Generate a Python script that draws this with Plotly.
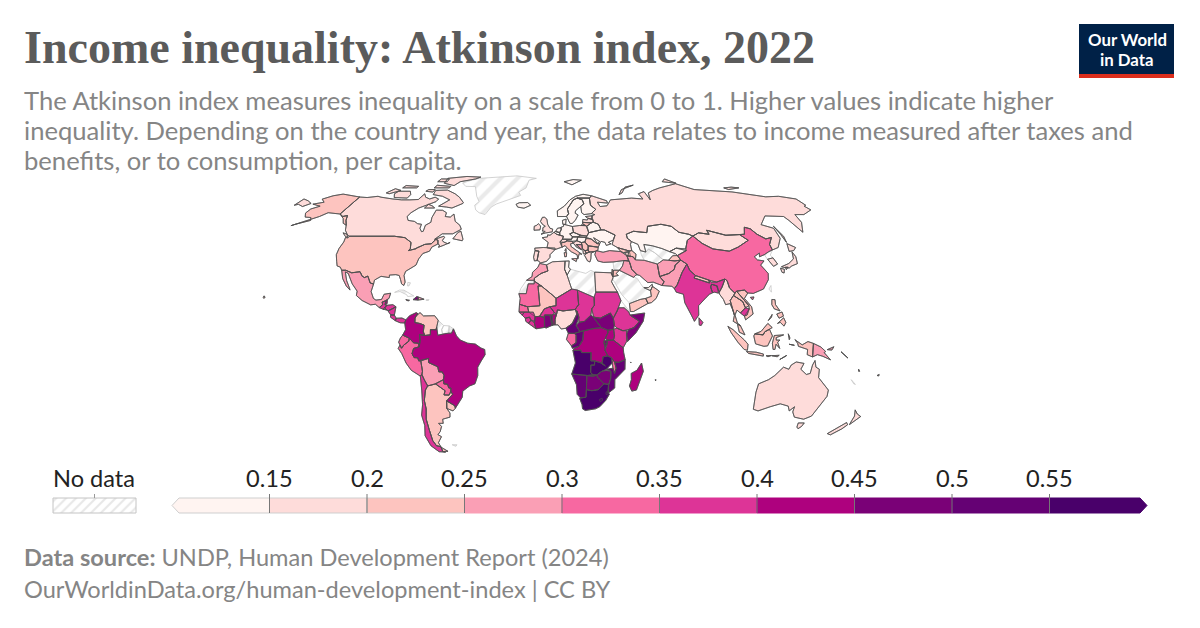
import bisect
import numpy as np
import plotly.graph_objects as go

TITLE = "Income inequality: Atkinson index, 2022"
SUBTITLE = ["The Atkinson index measures inequality on a scale from 0 to 1. Higher values indicate higher",
            "inequality. Depending on the country and year, the data relates to income measured after taxes and",
            "benefits, or to consumption, per capita."]
SOURCE = "<b>Data source:</b> UNDP, Human Development Report (2024)"
LINK = "OurWorldinData.org/human-development-index | CC BY"
BREAKS = [0.15, 0.2, 0.25, 0.3, 0.35, 0.4, 0.45, 0.5, 0.55]
BREAK_LABELS = ["0.15", "0.2", "0.25", "0.3", "0.35", "0.4", "0.45", "0.5", "0.55"]
COLORS = ["#fff4f1", "#fedcda", "#fdc4bf", "#fa9fb5", "#f768a1", "#dd3497", "#ae017e", "#7a0177", "#650174", "#49006a"]

VALUES = {
 "Canada":.17,"USA":.22,"Mexico":.28,"Guatemala":.37,"Belize":.4,"Honduras":.38,"El Salvador":.28,"Nicaragua":.36,"Costa Rica":.36,"Panama":.38,
 "Haiti":.48,"Dominican Rep":.28,"Jamaica":.3,"Colombia":.42,"Venezuela":.23,"Ecuador":.32,"Peru":.32,"Brazil":.43,"Bolivia":.28,"Paraguay":.32,"Chile":.37,"Argentina":.22,"Uruguay":.22,
 "Iceland":.12,"UK":.18,"Ireland":.17,"France":.17,"Spain":.19,"Portugal":.19,"Belgium":.13,"Netherlands":.14,"Germany":.14,"Denmark":.14,"Switzerland":.17,"Austria":.14,"Italy":.21,
 "Poland":.17,"Czechia":.11,"Slovakia":.12,"Hungary":.14,"Croatia":.15,"Bosnia":.27,"Serbia":.22,"Albania":.17,"N Macedonia":.2,"Greece":.18,"Bulgaria":.22,"Romania":.21,"Moldova":.14,"Ukraine":.12,"Belarus":.12,
 "Lithuania":.2,"Latvia":.18,"Estonia":.16,"Norway":.13,"Sweden":.13,"Finland":.12,"Russia":.18,"Kazakhstan":.12,"Kyrgyzstan":.14,"Tajikistan":.2,"Afghanistan":.27,"Pakistan":.27,"Iran":.27,"Iraq":.27,"Turkey":.28,
 "Jordan":.22,"Israel":.2,"Yemen":.23,"Oman":.23,"UAE":.12,"Georgia":.22,"Azerbaijan":.22,"Armenia":.18,"India":.37,"Bangladesh":.36,"Nepal":.24,"Sri Lanka":.36,"China":.33,"Mongolia":.18,
 "South Korea":.17,"Japan":.18,"Myanmar":.18,"Thailand":.22,"Laos":.23,"Vietnam":.22,"Cambodia":.38,"Malaysia":.23,"Indonesia":.22,"PNG":.28,"Philippines":.23,"Australia":.17,"New Zealand":.18,
 "Morocco":.27,"Mauritania":.31,"Algeria":.17,"Tunisia":.13,"Egypt":.18,"Sudan":.37,"South Sudan":.47,"Ethiopia":.38,"Somalia":.46,"Kenya":.37,"Uganda":.42,"Tanzania":.42,"Rwanda":.47,"Burundi":.47,
 "Senegal":.32,"Guinea-Bissau":.37,"Guinea":.36,"Sierra Leone":.38,"Liberia":.38,"Cote d'Ivoire":.43,"Ghana":.47,"Togo":.5,"Benin":.42,"Burkina Faso":.38,"Mali":.23,"Niger":.37,"Nigeria":.18,"Cameroon":.52,"Chad":.37,"CAR":.47,
 "Gabon":.32,"Congo":.52,"DRC":.42,"Angola":.57,"Zambia":.57,"Malawi":.33,"Mozambique":.52,"Zimbabwe":.47,"Botswana":.47,"Namibia":.52,"South Africa":.58,"Lesotho":.47,"Eswatini":.47,"Madagascar":.42,"Fiji":.17,"Comoros":.37,"Mauritius":.18,"Solomon":.3,"Vanuatu":.22,
}

NO_DATA = {
 "Greenland":"-73 78.2,-68 76,-60 75.8,-54.5 70,-51 67,-53 65,-51 62.5,-48 61,-43.5 60,-41 64,-38 65.7,-30 68,-22 70.5,-24 72.5,-19 75,-18 80,-12 81.5,-30 83.5,-50 82.5,-62 81.5,-68 79.8",
 "Cuba":"-84.9 21.9,-82.5 23,-80 23,-75 20.7,-74.2 20.2,-77.5 19.9,-78 20.7,-82 22.3",
 "Puerto Rico":"-67.2 18.4,-65.7 18.4,-66 18,-67.2 18",
 "Bahamas":"-78.5 26.7,-77 26.5,-77.5 25,-78.3 25",
 "Guyana":"-60 8.5,-57 6,-58 4,-57.5 2,-60 1.3,-60.7 5.2",
 "Suriname":"-57 6,-54 5.8,-54.2 2.3,-56.5 2,-57.5 2,-58 4",
 "French Guiana":"-54 5.8,-51.7 4.4,-52.7 2.3,-54.2 2.3",
 "Falklands":"-61 -51.5,-58 -51.5,-59 -52.3",
 "Western Sahara":"-13 27.7,-8.7 27.7,-8.7 26,-12 26,-13 21.3,-17 21.3,-16 23.7",
 "Libya":"11.5 33,15 32.3,20 31,23 32.5,25 31.6,25 22,24 19.5,15 23,11.9 23.5,9.5 30.2",
 "Eritrea":"36.9 14.9,38.5 18,43 12.6,40 14.5,37 14.5",
 "Saudi Arabia":"35 29.5,38 30,37 31,39 32.5,42 31.2,46.5 29.1,48.5 28.5,50 26,51 24.5,55 22.7,55.2 20,52 19,49 18.5,43 16.5,42.8 17,39 21,37 24.5,35 28",
 "Syria":"36 36.5,42.4 37.2,41 34.5,39 32.5,36 33,36 35",
 "Turkmenistan":"53 42,56 41.3,58 42.7,61 41,65 37.5,61 35.5,54 37.3,53 40",
 "Uzbekistan":"56 41.3,56 45,61 44.3,66 43,70 41.5,73 40.5,71 39.5,67.5 37.2,65 37.5,61 41,58 42.7",
 "North Korea":"124.3 40,128 41.5,130.7 42.3,127.7 39.8,128.5 38.5,125 37.8",
 "Taiwan":"121.5 25.2,121 22,120 23.5",
 "New Caledonia":"164 -20,167 -22.3,166 -22",
}

OUTLINES = {
 "Canada":"-141 69.6,-135 69.3,-128 70,-125 69.5,-115 68.5,-108 68,-102 68,-96 68.2,-95 71.5,-92 69.5,-88 68.5,-85 69.5,-81.5 68.5,-82 67,-87 65,-91 63.5,-94 61,-94.8 59,-92.5 57,-88 56.5,-85 55.3,-82.3 55,-82 53,-80 51.3,-79 51.5,-79.5 54.5,-77 56,-78 58.5,-78 62.4,-73.5 62.3,-70 61,-69.5 59,-66 58.7,-64.5 60.3,-61.5 56.5,-57.5 54.5,-55.7 52.5,-58.5 51.3,-60 50.2,-66.5 50.2,-70 47.5,-65 49,-64.3 48.5,-65 47,-64 46.2,-61 45.3,-60 46,-63 44.7,-66 43.6,-65.8 44.7,-67 45.2,-67.8 47.1,-69.2 47.4,-71 45.3,-74.7 45,-76.5 44.2,-79 43.3,-79 42.9,-83 42,-82.4 43,-83.5 46,-84.8 46.6,-88.4 48.3,-95.2 49,-123 49,-125 50,-128 52,-130 54.5,-133 57,-135 59.5,-137.5 59,-141 60.3"
   "|-62 66,-68 63.5,-72 64,-78 64.5,-73 68,-80 70,-88 71,-89 73.5,-80 73.7,-72 71.5,-67 69.5,-62 66.5|-105 69,-115 69.3,-118 71.5,-117 73,-108 73,-105 71|-62 82.5,-75 83,-90 81.5,-88 78,-78 76.5,-76 79,-65 81|-122 71.5,-125 72,-122 74.5,-116 73.5|-80 75,-92 75,-92 76.7,-80 76|-87 79,-95 79,-95 81,-88 81|-106 75,-117 75,-117 76.5,-106 76|-90 72.5,-96 73,-95 74,-90 74|-59 47.8,-53 46.8,-52.8 47.6,-55.5 51.5,-57 51|-123.5 48.5,-125 48.8,-128.2 50.7,-125 50|-80 63.5,-87 63.5,-86 65.5,-82 64.5",
 "USA":"-123 49,-95.2 49,-88.4 48.3,-84.8 46.6,-83.5 46,-82.4 43,-83 42,-79 42.9,-79 43.3,-76.5 44.2,-74.7 45,-71 45.3,-69.2 47.4,-67.8 47.1,-67 45.2,-70 43.7,-70.6 41.7,-74 40.6,-75.5 38,-76 35,-78 33.9,-81 32,-81.3 30,-80 26.8,-80.4 25.2,-81.8 26,-82.8 28,-84 30,-86 30.4,-89.5 30.2,-89.3 29,-91 29.3,-94 29.6,-97.2 27.8,-97.2 25.9,-99.2 26.4,-101.4 29.7,-103 29,-104.5 29.6,-106.5 31.8,-108.2 31.5,-111 31.3,-114.8 32.5,-117.1 32.5,-118.5 34,-120.6 34.6,-122 36.8,-124 40,-124.5 43,-124 46.2,-124.7 48.4,-123 48.2"
   "|-141 69.6,-148 70.4,-156.5 71.3,-162 70.3,-166.5 68.4,-162 66.7,-168 65.6,-161 64.5,-165 63,-165 60.8,-162 58.7,-158 58.5,-156 57,-163 55,-165 54.3,-158 56.8,-153 59,-150 61,-146 60.8,-141 60.3"
   "|-130 54.5,-133 57,-135 59.5,-137.5 59,-141 60.3,-139 59.5,-136 58,-133 55.5|-155.5 19,-155 19.7,-155.8 20.2,-156 19.5",
 "Mexico":"-117.1 32.5,-114.8 32.5,-111 31.3,-108.2 31.5,-106.5 31.8,-104.5 29.6,-103 29,-101.4 29.7,-99.2 26.4,-97.2 25.9,-97.8 22.3,-96 19,-94.5 18.2,-91.5 18.5,-90.5 21,-87 21.5,-87.5 19,-88.3 18.5,-89.1 17.9,-91 17.2,-90.5 16,-92.2 14.6,-94.5 16.2,-97 15.9,-102 18,-105.5 20.4,-105.5 22.5,-109 26,-112.8 31,-114.7 31.7,-112.5 27.5,-110 24,-109.5 23,-112 25,-115 28.5",
 "Guatemala":"-92.2 14.6,-90.5 16,-91 17.2,-89.1 17.9,-89.2 15.9,-88.2 15.7,-89.3 14.4,-90 13.8",
 "Belize":"-88.3 18.5,-89.1 17.9,-89.2 15.9,-88.2 16.5",
 "Honduras":"-88.2 15.7,-85 16,-83.2 15,-85 14,-87.3 13,-87.8 13.4,-89.3 14.4",
 "El Salvador":"-89.3 14.4,-87.8 13.4,-90 13.8",
 "Nicaragua":"-83.2 15,-83.7 11,-85.7 11.1,-87.3 13,-85 14",
 "Costa Rica":"-83.7 11,-82.6 9.5,-83 8.3,-85.7 10,-85.7 11.1",
 "Panama":"-82.6 9.5,-79.5 9.6,-77.4 8.7,-77.9 7.2,-80.4 7.3,-81.5 7.7,-83 8.3",
 "Haiti":"-74.4 18.4,-72.5 19.9,-71.7 19.7,-71.7 18.2",
 "Dominican Rep":"-71.7 19.7,-69 19,-68.4 18.6,-71.7 18.2",
 "Jamaica":"-78.3 18.4,-76.3 18.1,-77 17.8",
 "Colombia":"-77.4 8.7,-75.5 10.7,-72 12.2,-71.3 11.8,-72.5 9.5,-72.5 7.4,-70 7,-67.5 6.2,-67.8 3,-67 1.2,-69.8 1.7,-69.5 -1,-70 -4.2,-70.5 -2.5,-73 -2.3,-75.2 -0.1,-78.8 1.4,-77.3 4,-77.9 7.2",
 "Venezuela":"-71.3 11.8,-71.5 10.9,-70 12.2,-68 10.6,-62 10.7,-60 8.5,-60.7 5.2,-61 4,-64 4,-64 1.5,-67 1.2,-67.8 3,-67.5 6.2,-70 7,-72.5 7.4,-72.5 9.5",
 "Brazil":"-69.8 1.7,-67 1.2,-64 1.5,-64 4,-61 4,-60.7 5.2,-60 1.3,-57.5 2,-56.5 2,-54.2 2.3,-52.7 2.3,-51.7 4.4,-50 1,-48 -1,-44 -2.5,-40 -2.9,-37 -4.8,-35 -5.5,-34.8 -8,-37 -11,-39 -14,-39.2 -18,-41 -22,-44 -23,-48 -25.5,-48.7 -28.5,-52 -32.5,-53.4 -33.7,-53.5 -32.5,-57.6 -30.2,-53.8 -27,-54.6 -25.6,-54.3 -24,-55.5 -24,-56 -22.2,-58 -22,-58 -20,-57.5 -18,-58.3 -16.3,-60.2 -16.2,-60.5 -13.8,-65.3 -11.8,-65.3 -9.8,-69.5 -11,-70.6 -11,-71 -9.5,-73 -9.4,-74 -7.5,-73 -5,-70 -4.2,-69.5 -1",
 "Ecuador":"-78.8 1.4,-75.2 -0.1,-75.6 -1.6,-78.3 -3.4,-79.5 -4.9,-80.3 -3.4,-81 -2,-80 0",
 "Peru":"-75.2 -0.1,-73 -2.3,-70.5 -2.5,-70 -4.2,-73 -5,-74 -7.5,-73 -9.4,-71 -9.5,-70.6 -11,-69.5 -11,-69 -16,-69.5 -17.5,-70.4 -18.3,-75 -15.5,-77.5 -12,-79.5 -7.5,-81.3 -5,-80.3 -3.4,-79.5 -4.9,-78.3 -3.4,-75.6 -1.6",
 "Bolivia":"-69.5 -11,-65.3 -9.8,-65.3 -11.8,-60.5 -13.8,-60.2 -16.2,-58.3 -16.3,-57.5 -18,-58 -20,-62.6 -22,-64.5 -22.5,-67 -23,-68.5 -20,-69.5 -17.5,-69 -16",
 "Paraguay":"-58 -20,-58 -22,-56 -22.2,-55.5 -24,-54.3 -24,-54.6 -25.6,-55.8 -27.4,-58.6 -27.3,-57.7 -25.3,-62.6 -22",
 "Chile":"-70.4 -18.3,-69.5 -17.5,-68.5 -20,-67 -23,-68.5 -25,-70 -30,-70 -34,-71.5 -39,-71.7 -44,-72 -49.5,-71 -52,-68.5 -52.5,-68.6 -54.9,-67 -55.2,-71 -55,-74.5 -52,-75.5 -47,-73.5 -42,-73.5 -37,-71.5 -32,-70.5 -25",
 "Argentina":"-64.5 -22.5,-62.6 -22,-57.7 -25.3,-58.6 -27.3,-55.8 -27.4,-54.6 -25.6,-53.8 -27,-57.6 -30.2,-58.3 -33.8,-57 -36,-57.5 -38,-62 -39,-62.3 -41,-65 -41,-63.8 -42.5,-65.5 -45,-67.5 -46.5,-65.8 -47.5,-69 -50.5,-68.5 -52.5,-71 -52,-72 -49.5,-71.7 -44,-71.5 -39,-70 -34,-70 -30,-68.5 -25,-67 -23|-68.6 -52.7,-65.2 -54.8,-68.6 -54.9",
 "Uruguay":"-57.6 -30.2,-53.5 -32.5,-53.4 -33.7,-55 -35,-58.3 -33.8",
 "Iceland":"-24 65.5,-22 66.4,-16 66.5,-13.6 65,-18 63.4,-22.5 64",
 "UK":"-5.5 50,-3 50.6,1.4 51.2,1.7 52.6,0 53,-1.5 55,-2 57.6,-3.5 58.6,-5 58.6,-6.2 56.5,-4.9 55,-3 54,-4.5 53.3,-4.5 52,-5 51.7,-3 51.4",
 "Ireland":"-10 52,-6.3 52.2,-6 53.5,-6 54.2,-7.5 55.3,-8.5 54.5,-10 54",
 "France":"2.5 51,4 50,6 49.5,8.2 49,7.5 47.5,6 46.2,7 44,7.5 43.8,3 42.5,3 43.2,-1.8 43.4,-1.1 46,-4.8 48.3,-1.5 48.7,-1.5 49.7,0 49.5|9.4 43,9.5 41.5,8.7 42",
 "Spain":"-1.8 43.4,3 42.5,0 40,0 38.7,-2 36.8,-5.5 36,-6.5 37,-7.4 37.2,-7 39.5,-6.5 41.7,-8.8 42,-9 43.2,-4 43.5",
 "Portugal":"-7.4 37.2,-8.9 37,-9.5 38.8,-8.8 42,-6.5 41.7,-7 39.5",
 "Belgium":"2.5 51,3.5 51.4,6 50.8,6 49.5,4 50",
 "Netherlands":"3.5 51.4,6 50.8,7 52.3,7 53.3,4.7 53,4 52",
 "Germany":"7 53.5,8.6 54,8.8 55,10 54.7,14.2 53.9,14.6 51,12.2 50.2,13.8 48.7,13 47.5,7.5 47.6,8.2 49,6 49.5,6 50.8,7 52.3",
 "Denmark":"8.2 55,8.1 57,10.6 57.7,10 54.9,8.8 55",
 "Switzerland":"6 46.2,7.5 47.5,9.6 47.5,10.4 46.7,8.5 46",
 "Austria":"9.6 47.5,13 47.5,13.8 48.7,17 48.7,16.2 46.8,13.5 46.5,10.4 46.7",
 "Italy":"7 44,6.9 45.8,8.5 46,10.4 46.7,13.5 46.5,13.7 45.6,12.3 45.3,12.5 44,16 41.8,18.5 40.2,17 40.5,16.5 38.8,16 38,15.7 40,12.5 41.4,10.5 42.9,9 44.4,7.5 43.8|12.5 38,15.6 38.2,15 36.7|8.3 41,9.7 41,9.5 39.1,8.5 39",
 "Poland":"14.2 53.9,19 54.4,23 54.3,24 50.8,22.6 49.1,19 49.4,14.6 51",
 "Czechia":"12.2 50.2,14.6 51,18.8 49.6,17 48.7,13.8 48.7",
 "Slovakia":"18.8 49.6,22.6 49.1,22 48.4,17 48.7",
 "Hungary":"17 48.7,22 48.4,21 46.2,18.8 45.9,16.2 46.8",
 "Croatia":"13.6 45.6,16.2 46.8,18.8 45.9,19 44.9,15.7 44.9,18.5 42.4,15.5 43.8,14.5 45.2",
 "Bosnia":"15.7 44.9,19 44.9,19 43.2,18.5 42.5",
 "Serbia":"18.8 45.9,21 46.2,22.7 44.3,22.4 42.4,20.6 41.9,19.3 42.8,19 44.9",
 "Albania":"19.3 42.8,20.6 41.9,21 40.5,19.4 40.4",
 "N Macedonia":"20.6 41.9,22.4 42.3,23 41.2,21 40.9",
 "Greece":"21 40.5,23 41.3,26.3 41.6,24 40.8,23.5 38,22.8 36.5,21.5 37,20 39.7",
 "Bulgaria":"22.4 42.4,22.7 44.3,28.6 43.6,28 42,26.3 41.6,23 41.3",
 "Romania":"21 46.2,22 47.9,24.9 47.7,28 45.4,29.7 45.2,28.6 43.7,22.7 44.3",
 "Moldova":"26.6 48.3,30 46.4,28.2 45.5",
 "Ukraine":"22 48.4,24 50.8,32 52.2,34 52.2,40 49.6,38.2 47.1,35 46,36.5 45.3,33.5 44.5,33 46,30.7 46.5,29.7 45.3,28 45.4,24.9 47.7",
 "Belarus":"23.5 53.9,24 50.8,32 52.2,31 55,28 56.1,26.6 55.7,23.3 54",
 "Lithuania":"21 56,26.6 55.7,23.3 54,21 55.2",
 "Latvia":"21 56,21.5 57.5,24.4 57.2,25 58,28 57.5,28 56.1,26.6 55.7",
 "Estonia":"23.5 59,28 59.4,27.5 57.6,25 58,24.4 58.3",
 "Norway":"5 59,5 62,10 64.5,14.5 68,19 70,25 71.2,31 70.3,29 69,25 69,20 69,17 68,14.5 65.5,12 63,12.5 60.5,11 59|12 79,20 80.5,27 80,18 77",
 "Sweden":"11 59,12.5 60.5,12 63,14.5 65.5,17 68,20 69,23.5 68,24 65.8,21.5 64.5,17.4 62,17 60.7,18.8 59.8,16.5 57,14.2 55.4,12.8 55.5",
 "Finland":"20 69,25 69,29 69,28.5 65,31.5 62.8,27.8 60.5,22.8 60,21.4 61,21.5 64.5,24 65.8,23.5 68",
 "Russia":"31 70.3,41 67.5,41 66.2,34 66.7,35 64.3,40 64.7,44 68,53 68.5,60 69,68 68.5,67 71.5,72.5 72.8,73 68,75 72,80 73.5,87 75,104 77.7,113 74,128 73,140 72.6,160 69.7,170 70,180 68.5,180 65,178 64.5,179 62.5,170 60,164 60,162.5 56,157 51,155.7 57,155 59,143 59.3,135 54.8,141 53,140 48,135 43.5,130.7 42.3,131 45,135 48.4,131 47.7,127.5 50,126 52.7,123 53.5,119.8 50,116.7 49.8,108 49.5,98 52,98 50,92 50.7,87.5 49.1,85.5 50,80 51,77 54,71 55,62 54,60 50.8,52 51.5,47 50,47 48,49 46.4,48 45,48 42,46.5 41.8,40 43.4,37 45,38.2 47.1,40 49.6,34 52.2,32 52.2,31 55,28 56.1,28 57.5,27.5 57.6,28 59.4,30 60,27.8 60.5,31.5 62.8,28.5 65,29 69"
   "|-180 65,-180 68.5,-175 67.5,-170 66,-173 64.3,-178 65.5|19.7 54.4,22.8 54.4,21 55.2|142 54,143 49,142 46,142 50|52 71,56 74,68 76.8,60 75.5,55 72|95 79,105 78,100 81|138 75,145 75.5,150 75,140 74",
 "Kazakhstan":"47 48,47 50,52 51.5,60 50.8,62 54,71 55,77 54,80 51,85.5 50,87.5 49.1,83 47,80 42.8,74.5 43.2,70 41.5,66 43,61 44.3,56 45,56 41.3,53 42,52.5 45,49 46.4",
 "Kyrgyzstan":"70 41.5,74.5 43.2,80 42,73.8 39.6,73 40.5",
 "Tajikistan":"68 37.3,71 39.5,73.8 39.6,75 37.4,71.5 37",
 "Afghanistan":"61 35.5,65 37.5,68 37.3,71.5 37,75 37.4,71 35,70 33,66.5 31,61 29.5,61 31.5",
 "Pakistan":"61 29.5,66.5 31,70 33,71 35,75 37.4,77.8 35.5,74 31.5,70 25.5,68.2 23.7,67 24.8,61.6 25.2,63 27",
 "Iran":"44.5 39.5,48 39,49 37.5,54 37.3,61 35.5,61 31.5,61 29.5,63 27,61.6 25.2,57 26.8,54 26.6,50 30,48.5 30.4,46 33,45.5 36",
 "Iraq":"42.4 37.2,45 37,45.5 36,46 33,48.5 30.4,47.5 30,46.5 29.1,42 31.2,39 32.5,41 34.5",
 "Turkey":"26 40,27 42,31 41.2,35 42,41.5 41.5,44.5 39.5,45 37,42.4 37.2,36 36.5,30.5 36.3,27.3 37",
 "Jordan":"35 29.5,35.5 32.5,39 32.5,37 31,38 30",
 "Israel":"34.3 31.3,35 29.5,35.5 32.5,35 33,34.8 32",
 "Yemen":"43 16.5,49 18.5,52 19,53.1 16.6,45 12.7,43.3 12.7",
 "Oman":"52 19,55.2 20,55 22.7,56.3 24.8,59.8 22.5,57.7 19,55 17,53.1 16.6",
 "UAE":"51.5 24.2,54 24.2,56.3 25.8,56.3 24.8,55 22.7",
 "Georgia":"40 43.4,46.5 41.8,43 41,41.5 41.5",
 "Azerbaijan":"46.5 41.8,48 42,50 40.3,49 37.5,48 39,45 39.5",
 "Armenia":"43.5 41,46.5 41,46.5 39,44.5 39.5",
 "India":"77.8 35.5,78.5 32.5,81 30,80 28.8,88 26.4,88 27.8,89 26.8,92 26.8,97 28.3,94.5 24.5,92.5 22,92 24.2,91.5 25,89 25.8,88.2 24.5,88.8 21.7,87 21,85 19.5,80.3 15.5,80 11,77.5 8,76 11,73 17,72.8 21,69 22,68.2 23.7,70 25.5,74 31.5",
 "Bangladesh":"88.2 24.5,89 25.8,92 25,92 21.5,90 22,88.8 21.7",
 "Nepal":"80 28.8,81 30,88 27.8,88 26.4",
 "Sri Lanka":"80 9.7,82 7.5,81 6,80 6.2",
 "China":"73.8 39.6,80 42,80 42.8,83 47,87.5 49.1,91 45.5,96 42.8,105 41.7,111.5 43.7,119.8 47,116.7 49.8,119.8 50,123 53.5,126 52.7,127.5 50,131 47.7,135 48.4,131 45,130.7 42.3,128 41.5,124.3 40,121 39,122 40.8,118 39,119 37.5,122.5 37,119.5 35,122 31,121 28,117 23.5,111 21.4,108 21.6,106.5 23,102 22.5,101 21.5,98.5 24,98 27.5,97 28.3,92 26.8,89 27.8,88 27.8,81 30,78.5 32.5,77.8 35.5,75 37.4|109 19.5,111 19.7,110 18.3",
 "Mongolia":"87.5 49.1,92 50.7,98 50,98 52,108 49.5,116.7 49.8,119.8 47,111.5 43.7,105 41.7,96 42.8,91 45.5",
 "South Korea":"125 37.8,128.5 38.5,129.4 35.5,126.5 34.4",
 "Japan":"130.9 34.2,136 35.8,140 38,141.5 41.4,142 39,140.8 35.7,137 34.6,135 33.6,132 33.9|140 41.6,141.7 45.4,145.3 43.5,143 42|130 33.5,132 33,131 31.2,130 31.5|133 34,134.6 34,133 32.8",
 "Myanmar":"97 28.3,98 27.5,98.5 24,101 21.5,97.8 18,99.2 11,98.7 13,97.5 16.5,95 16,94.2 18.5,92.5 21,92.5 22,94.5 24.5",
 "Thailand":"97.8 18,100 20.4,104.5 17.5,105.5 14.5,102.5 12,100.8 13.4,99.5 11,100.5 7.2,102 6,98.3 8,99.2 11",
 "Laos":"101 21.5,102 22.5,104 20,107.5 15.5,105.5 14.5,104.5 17.5,100 20.4",
 "Vietnam":"102 22.5,106.5 23,108 21.6,105.7 19,108.9 15,109.3 11.5,105 8.7,104.5 10.5,107.5 14,107.5 15.5,104 20",
 "Cambodia":"102.5 12,105.5 14.5,107.5 14,106 11,104.5 10.5",
 "Malaysia":"100.5 6.5,102 6,104.3 1.5,101.3 2.8|109.6 2,111.3 2.7,113 3.2,116.8 7,119 5,117.5 4.2,115 3,114 1.5",
 "Indonesia":"109 1,109.6 2,114 1.5,115 3,117.5 4.2,119 1,116.5 -3.8,114.5 -4,110 -2.8|95.3 5.6,98 4,104 -1,106 -3,105.8 -5.9,104 -5.5,100.5 -2,97 2.5|105.3 -6.5,110.5 -6.8,114.5 -7.7,114.5 -8.7,106.5 -7.4|119.5 -5.5,119 -2.5,120 1.2,125 1.5,121 0.2,121 -1,123 -1,121.8 -2,123 -5,121 -3,120.5 -5.5|123.5 -10.3,127 -8.4,125 -9.5|119 -8.5,123 -8.3,122 -9,119.5 -8.8|116 -8.5,118.8 -8.4,117 -9|127.5 2,128.3 0,128 -0.8|128 -3,130.8 -3.5,129 -3.5|131 -0.8,135 -3.3,138 -1.7,141 -2.6,141 -9.1,138 -8,138 -5.5,133 -4,132.5 -2.5",
 "PNG":"141 -2.6,145 -4.3,147.8 -6.5,147 -7,150.8 -10.5,146.5 -8.8,143.5 -8,141 -9.1|148.5 -5.6,152 -4.2,151 -5.8",
 "Solomon":"156 -6.6,160 -9.6,159 -9",
 "Philippines":"120.5 18.5,122.2 18.4,122 16,124 13,121 14,120 16|122 7,125.5 9.7,126.5 7.5,125.4 5.7,123.5 7.5|122 11.5,125 12.5,125.5 10.5,123 9.5|117.2 8.4,119.5 11.3,119 10",
 "Australia":"114 -22,113.5 -26,115 -34.2,118 -35,124 -33,129 -31.6,134 -32.7,135.7 -35,137.7 -33,138 -35.5,140.5 -38,144 -38.5,146.5 -39,150 -37.5,151.3 -33.8,153.5 -28,153 -25,149.5 -22,146 -19,145.5 -15,143.5 -14,142.5 -10.8,141.5 -13,141 -17,139 -17.5,135.5 -15,136.8 -12.2,132.5 -11.5,130 -13,129 -15,126 -14,122 -18,119 -20|144.7 -40.8,148.2 -40.8,148 -42.5,146.8 -43.6,145.5 -42.8",
 "New Zealand":"172.8 -34.5,175.5 -36.5,178.4 -37.7,177 -39.5,175.3 -41.6,174.8 -39.5,174.7 -37.5|172.7 -40.6,174.3 -41.7,172.8 -43.7,171 -45,169 -46.6,166.5 -46,170 -43",
 "Fiji":"177.5 -18,178.5 -17.5,178.5 -18.2",
 "Vanuatu":"166.7 -15,167.5 -16,167 -16",
 "Comoros":"43.3 -11.5,43.6 -11.9,43.3 -12",
 "Mauritius":"57.3 -20,57.8 -20.1,57.5 -20.5",
 "Morocco":"-5.9 35.8,-2 35.1,-1.2 32.2,-5 31,-8.7 28.7,-8.7 27.7,-13 27.7,-10 29.5,-9.8 31.5,-6.8 34",
 "Mauritania":"-17 21.3,-13 21.3,-12 26,-8.7 26,-8.7 27.3,-4.8 25,-6.6 25,-5.5 15.5,-12.2 15,-16.5 16.2,-16.2 19",
 "Algeria":"-2 35.1,1.5 36.6,8.6 36.9,8.2 33,9.5 30.2,11.9 23.5,3.3 19,1.2 20.7,-4.8 25,-8.7 27.3,-8.7 28.7,-5 31,-1.2 32.2",
 "Tunisia":"8.6 36.9,11 37,10.5 34,11.5 33,9.5 30.2,8.2 33",
 "Egypt":"25 31.6,34.2 31.3,35 29,34 27,35.7 23.9,36.9 22,25 22",
 "Sudan":"25 22,36.9 22,38.5 18,37 14.5,36.2 13,34 9.5,32.5 12,27 9.5,23.5 10,22.5 14,24 15.7,24 19.5",
 "South Sudan":"23.5 10,27 9.5,32.5 12,34 9.5,34.5 6,34 4.2,31 3.7,27.5 5,24.5 8.5",
 "Ethiopia":"36.2 13,37 14.5,40 14.5,42.5 12.5,43 11,48 8,45 5,42 4,39 3.5,35.9 4.7,34.5 6,34 9.5",
 "Somalia":"43 11,51 12,50 8,46 2.5,41.5 -1.7,41 2,42 4,45 5,48 8",
 "Kenya":"34 4.2,35.9 4.7,39 3.5,41 3.5,41 -1.7,39.2 -4.7,33.9 -1,34.5 1",
 "Uganda":"31 3.7,34 4.2,34.5 1,33.9 -1,30.5 -1.1,29.6 0,31 2.5",
 "Tanzania":"30.5 -1.1,33.9 -1,39.2 -4.7,39.5 -7,40.4 -10.4,37 -11.7,34.8 -11.6,33 -9.5,31 -8.6,29.5 -6,30.5 -3",
 "Rwanda":"29 -1.4,30.5 -1.1,30.5 -2.7,29 -2.7",
 "Burundi":"29 -2.7,30.5 -2.7,29.5 -4.5",
 "Senegal":"-16.5 16.2,-12.2 15,-11.4 12.4,-16.7 12.4",
 "Guinea-Bissau":"-16.7 12.4,-13.7 12.4,-15 11",
 "Guinea":"-13.7 12.4,-11.4 12.4,-9 12.4,-8 10.2,-7.9 8,-10 8.5,-11 10,-13.3 9.5,-15 11",
 "Sierra Leone":"-13.3 9.5,-11 10,-10.3 8.5,-11.5 7,-13 8",
 "Liberia":"-11.5 7,-10.3 8.5,-8.5 7.6,-7.5 4.4",
 "Cote d'Ivoire":"-8.5 7.6,-8 10.2,-5.5 10.4,-3 9.9,-2.7 5.1,-7.5 4.4",
 "Ghana":"-3 11,0 11,1.2 6.1,-2 4.8,-3 5.1",
 "Togo":"0 11,1 11,1.7 6.2,1 6",
 "Benin":"1 11,3.6 11.7,2.7 9,2.7 6.3,1.7 6.2",
 "Burkina Faso":"-5.5 10.4,-3 9.9,-3 11,0 11,1 11,2.5 12,0 15,-3 14,-5 11.5",
 "Mali":"-12.2 15,-11.4 12.4,-8 10.2,-5.5 10.4,-5 11.5,-3 14,0 15,3.3 15.5,3.3 19,1.2 20.7,-4.8 25,-6.6 25,-5.5 15.5",
 "Niger":"3.3 15.5,0 15,2.5 12,3.6 11.7,4 13.5,7 13,13.5 13.7,15.5 16,15 23,11.9 23.5,3.3 19",
 "Nigeria":"2.7 6.3,2.7 9,3.6 11.7,4 13.5,7 13,13.5 13.7,14.5 11.5,12 7,8.5 4.7,6 4.3,4.3 6.3",
 "Cameroon":"8.5 4.7,12 7,14.5 11.5,14.5 13,15.5 10,14 6,16 3,13 2.2,9.8 2.3",
 "Chad":"15 23,24 19.5,24 15.7,22.5 14,22 11,18.5 8,15.5 7.5,15.5 10,14.5 13,13.5 13.7,15.5 16",
 "CAR":"14 6,15.5 7.5,18.5 8,22 11,23.5 10,24.5 8.5,27.5 5,23 4.5,18.5 3.5,16 3",
 "Gabon":"9.8 2.3,13 2.2,14 1.4,14 -2.2,11.5 -3.8,9.3 -1.5,8.8 -0.7",
 "Congo":"13 2.2,16 3,18 3.5,17.5 -1,15.5 -4,12 -5,11.5 -3.8,14 -2.2,14 1.4",
 "DRC":"18 3.5,23 4.5,27.5 5,31 3.7,31 2.5,29.6 0,29 -1.4,29 -2.7,29.5 -4.5,29.5 -6,31 -8.6,28.5 -9,28 -12,29.8 -13.4,27 -11.8,24 -11,22 -11,22 -7,17 -7,16.5 -5.9,12.3 -6,13 -5,15.5 -4,17.5 -1",
 "Angola":"12.3 -6,16.5 -5.9,17 -7,22 -7,22 -11,24 -11,24 -13,22 -13,22 -16.5,23.3 -17.7,20.5 -18,11.8 -17.3,13.7 -12,13 -9",
 "Zambia":"22 -13,24 -13,24 -11,27 -11.8,29.8 -13.4,28 -12,28.5 -9,31 -8.6,33 -9.5,33.5 -12,30.5 -15,28 -16,25.3 -17.8,23.3 -17.7,22 -16.5",
 "Malawi":"33 -9.5,34.8 -11.6,35.7 -14.5,35 -17,34 -14.5,33.5 -12",
 "Mozambique":"34.8 -11.6,37 -11.7,40.4 -10.4,40.5 -15,35.3 -20,35.5 -24,32.8 -26,32 -26,32 -23,33 -19.5,33 -16,30.5 -15,34 -14.5,35 -17,35.7 -14.5",
 "Zimbabwe":"25.3 -17.8,28 -16,30.5 -15.6,33 -16,33 -19.5,32 -22.3,29.5 -22,26 -19",
 "Botswana":"20 -18,23.3 -17.7,25.3 -17.8,26 -19,29.5 -22,26.5 -24.8,23 -25.3,20 -24.8,20 -22",
 "Namibia":"11.8 -17.3,20.5 -18,23.3 -17.7,25.3 -17.8,23.3 -18.5,20 -18,20 -22,20 -28.4,17 -28.8,15 -27,14.5 -22.5",
 "South Africa":"17 -28.8,20 -28.4,20 -24.8,23 -25.3,26.5 -24.8,29.5 -22,32 -22.3,32 -26,32.8 -27,31 -30,28 -33,25.7 -34,20 -34.8,18.4 -34,18 -32,16.5 -29",
 "Lesotho":"27.5 -29.5,29 -29,29.3 -30,28 -30.5",
 "Eswatini":"31 -25.8,32 -26,31.8 -27.2,30.9 -27",
 "Madagascar":"49.3 -12,50.5 -16,47.5 -25,45 -25.5,43.5 -23,44.3 -20,44 -17,47 -15.5",
}

# Robinson projection tables (every 5 degrees of latitude)
LAT_TABLE = list(range(0, 95, 5))
PLEN = [1,.9986,.9954,.99,.9822,.973,.96,.9427,.9216,.8962,.8679,.835,.7986,.7597,.7186,.6732,.6213,.5722,.5322]
PDFE = [0,.062,.124,.186,.248,.31,.372,.434,.4958,.5571,.6176,.6769,.7346,.7903,.8435,.8936,.9394,.9761,1]
CX, CY, KX, KY = 550, 338, 1.87, 168

def project(lon, lat):
    a = abs(lat)
    return CX + KX * np.interp(a, LAT_TABLE, PLEN) * lon, CY - np.sign(lat) * KY * np.interp(a, LAT_TABLE, PDFE)

def parts(outline):
    xs, ys = [], []
    for part in outline.split("|"):
        pts = [tuple(map(float, p.split())) for p in part.split(",")]
        pts.append(pts[0])
        for lon, lat in pts:
            x, y = project(lon, lat)
            xs.append(round(float(x), 2)); ys.append(round(float(y), 2))
        xs.append(None); ys.append(None)
    return xs, ys

fig = go.Figure()

nx, ny = [], []
for o in NO_DATA.values():
    a, b = parts(o); nx += a; ny += b
fig.add_trace(go.Scatter(x=nx, y=ny, mode="lines", fill="toself", hoverinfo="skip", showlegend=False,
    line=dict(color="#c8c8c8", width=0.8), fillcolor="white",
    fillpattern=dict(shape="/", fgcolor="#d6d6d6", bgcolor="white", size=12, solidity=0.35)))

for i, col in enumerate(COLORS):
    xs, ys = [], []
    for name, v in VALUES.items():
        if bisect.bisect_right(BREAKS, v) == i and name in OUTLINES:
            a, b = parts(OUTLINES[name]); xs += a; ys += b
    if xs:
        fig.add_trace(go.Scatter(x=xs, y=ys, mode="lines", fill="toself", fillcolor=col, hoverinfo="skip",
            showlegend=False, line=dict(color="#4e4e4e", width=0.7)))
bx, by = [], []
for name in VALUES:
    if name in OUTLINES:
        a, b = parts(OUTLINES[name]); bx += a; by += b
fig.add_trace(go.Scatter(x=bx, y=by, mode="lines", hoverinfo="skip", showlegend=False, line=dict(color="#4e4e4e", width=0.7)))

B0, BSTEP = 269.5, 97.5 / 0.05
def lx(v):
    return B0 + (v - BREAKS[0]) * BSTEP
TOP, BOT = 498, 513
edges = [lx(BREAKS[0]) - 90.5] + [lx(b) for b in BREAKS] + [lx(BREAKS[-1]) + 90.5]
shapes = []
for i, col in enumerate(COLORS):
    l, r = edges[i], edges[i + 1]
    if i == 0:
        path = f"M{l-7},{(TOP+BOT)/2} L{l},{TOP} L{r},{TOP} L{r},{BOT} L{l},{BOT} Z"
    elif i == len(COLORS) - 1:
        path = f"M{l},{TOP} L{r},{TOP} L{r+7},{(TOP+BOT)/2} L{r},{BOT} L{l},{BOT} Z"
    else:
        path = f"M{l},{TOP} L{r},{TOP} L{r},{BOT} L{l},{BOT} Z"
    shapes.append(dict(type="path", path=path, fillcolor=col, line=dict(color="#cfcfcf" if i < 3 else col, width=1), xref="x", yref="y"))
for b in BREAKS:
    shapes.append(dict(type="line", x0=lx(b), x1=lx(b), y0=494, y1=BOT, xref="x", yref="y", line=dict(color="#777", width=1)))
shapes.append(dict(type="line", x0=94.5, x1=94.5, y0=494, y1=TOP, xref="x", yref="y", line=dict(color="#999", width=1)))
shapes.append(dict(type="rect", x0=1079, x1=1174, y0=24, y1=78, xref="x", yref="y", fillcolor="#002147", line=dict(width=0)))
shapes.append(dict(type="rect", x0=1079, x1=1174, y0=74, y1=78, xref="x", yref="y", fillcolor="#dc2e1c", line=dict(width=0)))

fig.add_trace(go.Scatter(x=[53, 136, 136, 53, 53], y=[TOP, TOP, BOT, BOT, TOP], mode="lines", fill="toself", hoverinfo="skip", showlegend=False,
    line=dict(color="#c4c4c4", width=1), fillpattern=dict(shape="/", fgcolor="#d0d0d0", bgcolor="white", size=7, solidity=0.3)))

def note(text, x, y, size, color, anchor="left", family="Lato", **kw):
    return dict(text=text, x=x, y=y, xref="x", yref="y", xanchor=anchor, yanchor="middle", showarrow=False,
                font=dict(family=family, size=size, color=color), align=anchor, **kw)

anns = [note(f"<b>{TITLE}</b>", 22, 47, 46, "#5b5b5b", family="Liberation Serif")]
for i, line in enumerate(SUBTITLE):
    anns.append(note(line, 22, 100 + 30 * i, 25.6, "#858585"))
anns.append(note(SOURCE, 22, 557, 23.6, "#858585"))
anns.append(note(LINK, 22, 589, 23.6, "#858585"))
anns.append(note("No data", 94, 478, 23.6, "#222", "center"))
for b, lab in zip(BREAKS, BREAK_LABELS):
    anns.append(note(lab, lx(b), 478, 23.6, "#222", "center"))
anns.append(note("<b>Our World</b>", 1127, 39, 16.8, "white", "center"))
anns.append(note("<b>in Data</b>", 1127, 59, 16.8, "white", "center"))

fig.update_layout(width=1200, height=628, margin=dict(l=0, r=0, t=0, b=0), paper_bgcolor="white", plot_bgcolor="white",
    xaxis=dict(range=[0, 1200], visible=False, fixedrange=True), yaxis=dict(range=[628, 0], visible=False, fixedrange=True),
    shapes=shapes, annotations=anns, showlegend=False)
fig.write_html("out.html", post_script="document.body.style.margin='0';", config={"displayModeBar": False})
